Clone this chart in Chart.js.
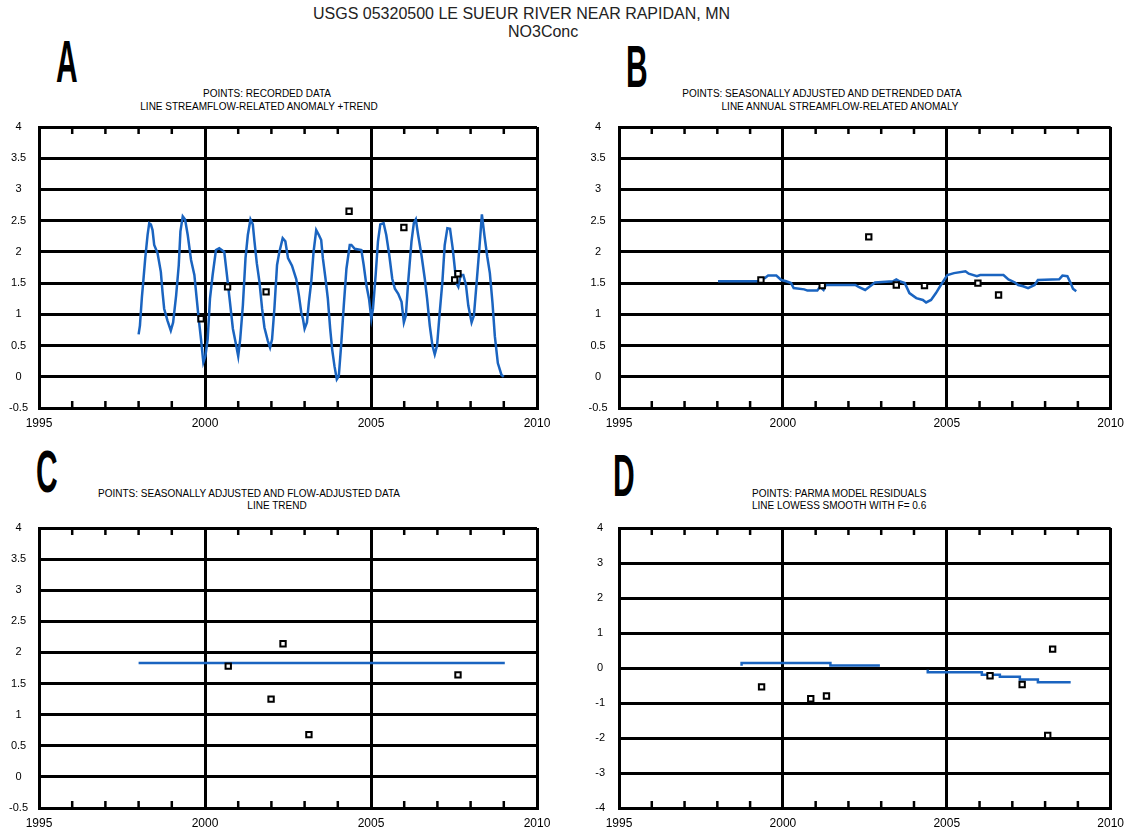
<!DOCTYPE html>
<html>
<head>
<meta charset="utf-8">
<script src="https://cdn.jsdelivr.net/npm/chart.js@4.4.1/dist/chart.umd.min.js"></script>
<style>
  body { margin: 0; background: #fff; }
  #page { position: relative; width: 1132px; height: 831px; font-family: "Liberation Sans", Arial, sans-serif; color: #000; overflow: hidden; }
  canvas { position: absolute; }
  .title { position: absolute; font-size: 16px; line-height: 16px; color: #222; white-space: nowrap; }
  .sub { position: absolute; font-size: 10px; line-height: 10px; white-space: nowrap; width: 400px; text-align: center; }
  .letter { position: absolute; font-size: 60px; line-height: 60px; font-weight: bold; transform: scaleX(0.5); transform-origin: 0 0; }
</style>
</head>
<body>
<div id="page">
  <div class="title" style="left:313px; top:6px;">USGS 05320500 LE SUEUR RIVER NEAR RAPIDAN, MN</div>
  <div class="title" style="left:508px; top:24px;">NO3Conc</div>

  <div class="letter" style="left:56px; top:32px;">A</div>
  <div class="letter" style="left:626px; top:37px;">B</div>
  <div class="letter" style="left:36px; top:442px;">C</div>
  <div class="letter" style="left:613px; top:446px;">D</div>

  <div class="sub" style="left:67px; top:89px;">POINTS: RECORDED DATA</div>
  <div class="sub" style="left:59px; top:102px;">LINE STREAMFLOW-RELATED ANOMALY +TREND</div>
  <div class="sub" style="left:622px; top:89px;">POINTS: SEASONALLY ADJUSTED AND DETRENDED DATA</div>
  <div class="sub" style="left:640px; top:102px;">LINE ANNUAL STREAMFLOW-RELATED ANOMALY</div>
  <div class="sub" style="left:49px; top:489px;">POINTS: SEASONALLY ADJUSTED AND FLOW-ADJUSTED DATA</div>
  <div class="sub" style="left:77px; top:501px;">LINE TREND</div>
  <div class="sub" style="left:752px; top:489px; text-align:left;">POINTS: PARMA MODEL RESIDUALS</div>
  <div class="sub" style="left:752px; top:501px; text-align:left;">LINE LOWESS SMOOTH WITH F= 0.6</div>

  <canvas id="panelA" width="566" height="340" style="left:0; top:100px;"></canvas>
  <canvas id="panelB" width="566" height="340" style="left:566px; top:100px;"></canvas>
  <canvas id="panelC" width="566" height="331" style="left:0; top:500px;"></canvas>
  <canvas id="panelD" width="566" height="331" style="left:566px; top:500px;"></canvas>
</div>
<script>
// panel A: recorded data + streamflow-related anomaly + trend
const aLineX = [1998.00, 1998.04, 1998.10, 1998.14, 1998.20, 1998.27, 1998.32, 1998.37, 1998.42, 1998.47,
  1998.57, 1998.67, 1998.72, 1998.77, 1998.87, 1998.97, 1999.04, 1999.13, 1999.21, 1999.26,
  1999.33, 1999.40, 1999.48, 1999.58, 1999.68, 1999.75, 1999.81, 1999.88, 1999.95, 2000.01,
  2000.08, 2000.15, 2000.23, 2000.33, 2000.43, 2000.58, 2000.65, 2000.74, 2000.84, 2000.94,
  2001.00, 2001.06, 2001.14, 2001.22, 2001.29, 2001.37, 2001.44, 2001.49, 2001.56, 2001.64,
  2001.72, 2001.79, 2001.89, 2001.96, 2002.02, 2002.09, 2002.17, 2002.24, 2002.34, 2002.42,
  2002.50, 2002.62, 2002.75, 2002.83, 2002.90, 2002.95, 2003.00, 2003.07, 2003.13, 2003.20,
  2003.27, 2003.35, 2003.43, 2003.50, 2003.55, 2003.63, 2003.70, 2003.77, 2003.83, 2003.90,
  2003.97, 2004.03, 2004.10, 2004.18, 2004.26, 2004.36, 2004.41, 2004.51, 2004.71, 2004.78,
  2004.86, 2004.94, 2005.01, 2005.06, 2005.14, 2005.21, 2005.28, 2005.38, 2005.46, 2005.55,
  2005.64, 2005.72, 2005.82, 2005.92, 2005.99, 2006.05, 2006.12, 2006.22, 2006.29, 2006.35,
  2006.42, 2006.52, 2006.62, 2006.69, 2006.77, 2006.85, 2006.92, 2006.99, 2007.07, 2007.15,
  2007.22, 2007.30, 2007.38, 2007.46, 2007.53, 2007.58, 2007.63, 2007.70, 2007.78, 2007.86,
  2007.93, 2008.03, 2008.10, 2008.18, 2008.26, 2008.34, 2008.42, 2008.50, 2008.58, 2008.66,
  2008.73, 2008.82, 2008.93, 2009.00];
const aLineY = [0.68, 0.82, 1.28, 1.52, 1.90, 2.27, 2.46, 2.44, 2.35, 2.11,
  1.98, 1.68, 1.36, 1.09, 0.90, 0.74, 0.87, 1.30, 1.79, 2.33,
  2.57, 2.52, 2.27, 1.87, 1.63, 1.25, 0.93, 0.60, 0.23, 0.33,
  0.60, 1.25, 1.63, 2.03, 2.06, 2.00, 1.68, 1.25, 0.77, 0.50,
  0.33, 0.60, 1.14, 1.90, 2.27, 2.52, 2.44, 2.17, 1.82, 1.52,
  1.09, 0.79, 0.58, 0.47, 0.60, 1.09, 1.79, 2.00, 2.22, 2.17,
  1.90, 1.78, 1.56, 1.30, 1.03, 0.93, 0.77, 0.87, 1.20, 1.52,
  2.00, 2.35, 2.27, 2.19, 1.90, 1.57, 1.25, 0.77, 0.44, 0.17,
  -0.04, 0.01, 0.50, 1.14, 1.73, 2.11, 2.11, 2.05, 2.03, 1.79,
  1.47, 1.25, 0.93, 1.09, 1.63, 2.17, 2.44, 2.46, 2.27, 1.95,
  1.57, 1.41, 1.33, 1.20, 0.87, 0.98, 1.52, 2.17, 2.46, 2.52,
  2.27, 1.95, 1.57, 1.25, 0.82, 0.50, 0.36, 0.50, 1.03, 1.52,
  2.11, 2.38, 2.37, 2.06, 1.71, 1.49, 1.44, 1.63, 1.63, 1.47,
  1.14, 0.87, 0.98, 1.50, 2.03, 2.60, 2.25, 1.93, 1.66, 1.18,
  0.65, 0.22, 0.03, 0.00];
const aPointX = [1999.88, 2000.68, 2001.84, 2004.34, 2005.99, 2007.52, 2007.62];
const aPointY = [0.93, 1.44, 1.36, 2.65, 2.39, 1.55, 1.65];

// panel B: seasonally adjusted and detrended data + annual anomaly
const bLineX = [1998.02, 1999.25, 1999.30, 1999.45, 1999.55, 1999.80, 1999.95, 2000.10, 2000.25, 2000.33,
  2000.65, 2000.75, 2001.05, 2001.13, 2001.24, 2001.31, 2002.21, 2002.31, 2002.51, 2002.66,
  2002.81, 2003.36, 2003.46, 2003.56, 2003.72, 2003.86, 2004.07, 2004.27, 2004.37, 2004.52,
  2004.67, 2004.82, 2004.92, 2005.02, 2005.22, 2005.57, 2005.67, 2005.92, 2006.02, 2006.73,
  2006.88, 2007.08, 2007.18, 2007.33, 2007.48, 2007.68, 2007.78, 2008.43, 2008.53, 2008.68,
  2008.78, 2008.85, 2008.95];
const bLineY = [1.53, 1.53, 1.56, 1.58, 1.62, 1.62, 1.55, 1.53, 1.50, 1.42,
  1.40, 1.38, 1.38, 1.44, 1.39, 1.47, 1.47, 1.44, 1.39, 1.45,
  1.51, 1.53, 1.56, 1.53, 1.50, 1.34, 1.26, 1.23, 1.19, 1.23,
  1.34, 1.47, 1.55, 1.63, 1.66, 1.69, 1.65, 1.61, 1.63, 1.63,
  1.56, 1.51, 1.47, 1.45, 1.42, 1.47, 1.55, 1.56, 1.62, 1.61,
  1.50, 1.41, 1.37];
const bPointX = [1999.33, 2001.20, 2002.62, 2003.46, 2004.32, 2005.95, 2006.58];
const bPointY = [1.55, 1.46, 2.24, 1.47, 1.46, 1.50, 1.31];

// panel C: seasonally and flow adjusted data + trend
const cLineX = [1998.00, 2009.03];
const cLineY = [1.83, 1.83];
const cPointX = [2000.70, 2001.99, 2002.35, 2003.13, 2007.62];
const cPointY = [1.78, 1.25, 2.14, 0.68, 1.64];

// panel D: PARMA residuals + lowess smooth (two pieces)
const dLine1X = [1998.74, 2001.45, 2002.08, 2002.96];
const dLine1Y = [0.066, 0.14, 0.07, 0.07];
const dLine2X = [2004.42, 2006.07, 2006.62, 2007.23, 2007.78, 2008.33, 2008.78];
const dLine2Y = [-0.05, -0.12, -0.19, -0.25, -0.33, -0.41, -0.41];
const dPointX = [1999.35, 2000.85, 2001.33, 2006.32, 2007.30, 2008.08, 2008.23];
const dPointY = [-0.54, -0.88, -0.80, -0.22, -0.47, -1.93, 0.54];

const xLabelYears = [1995, 2000, 2005, 2010];
const minorYears = [1996, 1997, 1998, 1999, 2001, 2002, 2003, 2004, 2006, 2007, 2008, 2009];

const BLUE = '#1a64c0';

function xy(xs, ys) {
  return xs.map((x, i) => ({ x: x, y: ys[i] }));
}

function lineSet(xs, ys, stepped) {
  return {
    data: xy(xs, ys),
    showLine: true,
    borderColor: BLUE,
    borderWidth: 2.5,
    pointRadius: 0,
    stepped: stepped || false,
    order: 1
  };
}

function pointSet(xs, ys) {
  return {
    data: xy(xs, ys),
    showLine: false,
    pointStyle: 'rect',
    pointRadius: 3.8,
    pointBorderWidth: 2,
    pointBorderColor: '#000',
    pointBackgroundColor: '#fff',
    order: 0
  };
}

// short inward year ticks on top and bottom of the frame
const yearTicks = {
  id: 'yearTicks',
  afterDraw(chart) {
    const ctx = chart.ctx;
    const a = chart.chartArea;
    const xScale = chart.scales.x;
    ctx.save();
    ctx.strokeStyle = '#000';
    ctx.lineWidth = 2.5;
    minorYears.forEach(yr => {
      const px = xScale.getPixelForValue(yr);
      ctx.beginPath();
      ctx.moveTo(px, a.top);
      ctx.lineTo(px, a.top + 7);
      ctx.moveTo(px, a.bottom);
      ctx.lineTo(px, a.bottom - 7);
      ctx.stroke();
    });
    ctx.restore();
  }
};

function makePanel(id, datasets, yMin, yMax, yStep, yWidth, yPad, pad, xHeight) {
  const ctx = document.getElementById(id).getContext('2d');
  return new Chart(ctx, {
    type: 'scatter',
    data: { datasets: datasets },
    options: {
      responsive: false,
      animation: false,
      layout: { padding: pad },
      plugins: { legend: { display: false }, tooltip: { enabled: false } },
      scales: {
        x: {
          type: 'linear',
          min: 1995,
          max: 2010,
          afterFit(scale) { scale.height = xHeight; },
          afterBuildTicks(scale) { scale.ticks = xLabelYears.map(v => ({ value: v })); },
          ticks: {
            autoSkip: false,
            maxRotation: 0,
            padding: 8,
            color: '#000',
            font: { family: 'Liberation Sans', size: 12 },
            callback: v => String(v)
          },
          grid: { color: '#000', lineWidth: 3, drawTicks: false },
          border: { color: '#000', width: 3 }
        },
        y: {
          min: yMin,
          max: yMax,
          afterFit(scale) { scale.width = yWidth; },
          ticks: {
            stepSize: yStep,
            maxTicksLimit: 20,
            crossAlign: 'center',
            padding: yPad,
            color: '#000',
            font: { family: 'Liberation Sans', size: 11 },
            callback: v => String(Math.round(v * 10) / 10)
          },
          grid: { color: '#000', lineWidth: 3, drawTicks: false },
          border: { color: '#000', width: 3 }
        }
      }
    },
    plugins: [yearTicks]
  });
}

const chartA = makePanel('panelA',
  [lineSet(aLineX, aLineY), pointSet(aPointX, aPointY)],
  -0.5, 4, 0.5, 39, 11, { top: 27, right: 29, left: 0, bottom: 0 }, 32);

const chartB = makePanel('panelB',
  [lineSet(bLineX, bLineY), pointSet(bPointX, bPointY)],
  -0.5, 4, 0.5, 53, 11.5, { top: 27, right: 16, left: 0, bottom: 0 }, 32);

const chartC = makePanel('panelC',
  [lineSet(cLineX, cLineY), pointSet(cPointX, cPointY)],
  -0.5, 4, 0.5, 39, 11, { top: 28, right: 29, left: 0, bottom: 0 }, 23);

const chartD = makePanel('panelD',
  [lineSet(dLine1X, dLine1Y, 'after'), lineSet(dLine2X, dLine2Y, 'after'), pointSet(dPointX, dPointY)],
  -4, 4, 1, 53, 14, { top: 28, right: 16, left: 0, bottom: 0 }, 23);
</script>
</body>
</html>
